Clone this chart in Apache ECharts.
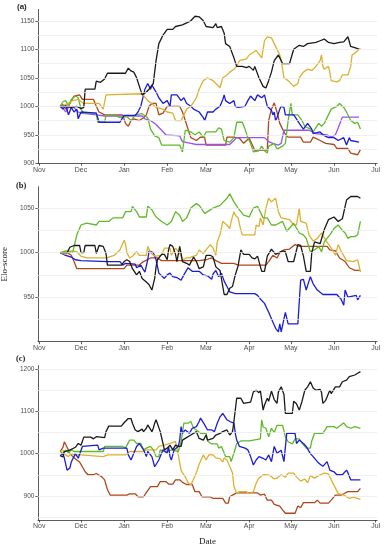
<!DOCTYPE html>
<html><head><meta charset="utf-8">
<script src="https://cdn.jsdelivr.net/npm/echarts@6/dist/echarts.min.js"></script>
<style>html,body{margin:0;padding:0;background:#fff}#c{width:388px;height:550px}</style>
</head><body><div id="c"></div>
<script>
// ---------- data (dates as MM-DD, season Nov 2016 - Jun 2017) ----------
const monthTicks = ['11-01','12-01','01-01','02-01','03-01','04-01','05-01','06-01','07-01'];
const monthNames = ['Jan','Feb','Mar','Apr','May','Jun','Jul','Aug','Sep','Oct','Nov','Dec'];
const yTicksA = [900,950,1000,1050,1100,1150];
const yTicksB = [950,1000,1050];
const yTicksC = [900,1000,1100,1200];
const gridA = [925,950,975,1000,1025,1050,1075,1100,1125,1150];
const gridB = [925,950,975,1000,1025,1050];
const gridC = [850,900,950,1000,1050,1100,1150,1200];

// panel (a)
const a_black = [['11-16',1000],['11-20',1000],['11-24',998],['11-28',1000],['12-01',996],['12-03',998],['12-04',1030],['12-11',1030],['12-12',1044],['12-15',1042],['12-18',1048],['12-20',1058],['01-02',1058],['01-04',1067],['01-06',1062],['01-08',1060],['01-10',1050],['01-12',1035],['01-14',1020],['01-17',1025],['01-19',1030],['01-22',1040],['01-24',1080],['01-26',1110],['01-29',1125],['02-01',1135],['02-05',1135],['02-07',1140],['02-12',1143],['02-18',1150],['02-21',1158],['02-24',1157],['02-27',1150],['03-01',1140],['03-06',1138],['03-08',1145],['03-09',1138],['03-12',1140],['03-14',1128],['03-15',1110],['03-18',1105],['03-21',1085],['03-23',1070],['03-27',1070],['03-30',1068],['04-01',1070],['04-04',1063],['04-05',1070],['04-08',1050],['04-11',1035],['04-13',1032],['04-15',1045],['04-17',1060],['04-19',1080],['04-22',1090],['04-23',1085],['04-25',1075],['04-30',1075],['05-03',1100],['05-07',1107],['05-10',1105],['05-13',1110],['05-19',1112],['05-22',1115],['05-25',1118],['05-28',1112],['06-01',1110],['06-05',1112],['06-08',1113],['06-11',1122],['06-13',1105],['06-17',1102],['06-19',1100]];
const a_gold = [['11-16',1000],['11-20',1003],['11-25',1010],['11-29',1012],['12-03',1005],['12-14',1005],['12-17',995],['12-19',1020],['12-20',1022],['01-14',1022],['01-18',1010],['01-21',1005],['01-24',998],['01-29',995],['02-01',990],['02-05',988],['02-07',975],['02-11',975],['02-13',985],['02-15',995],['02-18',1000],['02-22',1015],['02-24',1030],['02-27',1045],['03-02',1050],['03-06',1045],['03-08',1040],['03-11',1033],['03-13',1050],['03-16',1055],['03-18',1060],['03-21',1065],['03-23',1070],['03-25',1080],['03-30',1083],['04-01',1090],['04-06',1098],['04-10',1085],['04-11',1100],['04-12',1115],['04-14',1122],['04-17',1120],['04-19',1110],['04-22',1095],['04-23',1090],['04-24',1080],['04-26',1050],['04-29',1045],['05-03',1035],['05-06',1040],['05-07',1050],['05-10',1060],['05-13',1065],['05-16',1063],['05-18',1067],['05-22',1080],['05-23',1090],['05-24',1070],['05-25',1065],['05-28',1070],['05-29',1060],['05-30',1045],['06-03',1043],['06-05',1045],['06-07',1055],['06-11',1055],['06-13',1070],['06-14',1090],['06-17',1095],['06-19',1100],['06-20',1102]];
const a_blue = [['11-16',1000],['11-18',995],['11-20',1002],['11-22',985],['11-24',998],['11-26',990],['11-28',995],['11-29',978],['12-01',990],['12-12',988],['12-14',972],['12-29',972],['01-01',984],['01-09',984],['01-11',990],['01-13',1000],['01-14',1010],['01-16',1030],['01-18',1040],['01-19',1035],['01-20',1030],['01-21',1037],['01-24',1025],['01-26',1015],['01-29',1005],['02-01',1010],['02-03',1000],['02-04',1020],['02-08',1020],['02-11',1010],['02-13',1015],['02-15',1005],['02-18',1000],['02-20',995],['02-24',990],['02-27',980],['02-28',975],['03-02',990],['03-06',990],['03-08',995],['03-11',1000],['03-13',1012],['03-14',1020],['03-15',1010],['03-18',1005],['03-21',1010],['03-22',1000],['03-24',998],['03-29',1000],['03-31',1010],['04-02',1018],['04-05',1010],['04-07',1020],['04-10',1015],['04-12',1020],['04-13',1010],['04-14',1000],['04-17',993],['04-18',985],['04-19',990],['04-20',975],['04-21',980],['04-23',995],['04-24',1000],['04-26',998],['04-27',985],['05-03',985],['05-05',978],['05-07',970],['05-10',960],['05-13',970],['05-16',960],['05-17',952],['05-22',955],['05-24',950],['05-28',945],['06-01',945],['06-04',940],['06-08',945],['06-10',932],['06-12',945],['06-13',940],['06-19',937]];
const a_green = [['11-16',1000],['11-18',1008],['11-20',1010],['11-22',1000],['11-24',1012],['11-27',1018],['11-29',1015],['12-01',995],['12-03',988],['12-12',988],['12-13',972],['12-18',972],['12-19',985],['12-25',985],['12-29',980],['01-03',982],['01-06',975],['01-09',985],['01-14',987],['01-18',980],['01-20',960],['01-23',948],['01-26',945],['01-28',932],['02-10',932],['02-12',920],['02-14',958],['02-18',955],['02-21',950],['02-24',955],['02-27',945],['03-01',955],['03-08',955],['03-10',962],['03-12',960],['03-14',940],['03-18',937],['03-21',945],['03-23',972],['03-27',972],['03-29',960],['03-31',945],['04-02',935],['04-04',920],['04-08',922],['04-10',930],['04-12',922],['04-14',918],['04-15',930],['04-19',935],['04-21',925],['04-25',930],['04-27',935],['04-29',975],['05-01',1005],['05-02',985],['05-06',985],['05-09',975],['05-11',965],['05-15',960],['05-17',955],['05-21',970],['05-23',965],['05-25',970],['05-28',985],['05-30',995],['06-03',1000],['06-05',1005],['06-08',998],['06-10',990],['06-13',975],['06-16',970],['06-18',972],['06-20',960]];
const a_purple = [['11-16',1000],['11-18',997],['11-20',990],['11-22',998],['11-25',1000],['11-27',995],['11-29',990],['12-01',988],['12-12',985],['12-18',983],['01-14',983],['01-16',978],['01-20',975],['01-24',968],['01-28',958],['01-31',950],['02-10',948],['02-12',938],['02-18',935],['02-22',933],['03-18',933],['03-21',940],['03-23',945],['04-12',945],['04-15',938],['04-18',935],['04-22',932],['04-24',935],['04-26',958],['05-14',958],['05-19',952],['05-27',950],['05-30',946],['06-02',950],['06-04',962],['06-07',981],['06-19',981]];
const a_brown = [['11-16',1000],['11-18',1003],['11-20',995],['11-22',1000],['11-24',1010],['11-26',1018],['11-30',1020],['12-02',1012],['12-10',1012],['12-12',1000],['12-14',990],['12-18',985],['12-31',985],['01-02',970],['01-04',965],['01-06',975],['01-08',978],['01-12',975],['01-15',980],['01-17',985],['01-19',1000],['01-21',1005],['01-24',1005],['01-26',985],['01-29',988],['02-01',1000],['02-10',1000],['02-12',990],['02-14',975],['02-16',960],['02-18',945],['02-22',940],['02-25',946],['02-28',945],['03-01',932],['03-15',932],['03-16',946],['03-20',946],['03-25',944],['03-28',935],['04-01',944],['04-05',923],['04-14',923],['04-15',975],['04-17',995],['04-19',1006],['04-21',990],['04-23',970],['04-25',960],['04-27',951],['04-29',946],['05-08',946],['05-10',937],['05-15',937],['05-17',946],['05-22',940],['05-26',935],['06-01',933],['06-03',926],['06-11',926],['06-13',918],['06-18',915],['06-20',924]];

// panel (b)
const b_green = [['11-16',1000],['11-20',1002],['11-25',1000],['11-28',1020],['12-01',1031],['12-05',1033],['12-12',1031],['12-14',1035],['12-21',1035],['12-24',1039],['12-31',1039],['01-02',1046],['01-06',1046],['01-07',1052],['01-10',1046],['01-12',1040],['01-17',1040],['01-18',1052],['01-21',1048],['01-24',1040],['01-28',1035],['02-01',1031],['02-04',1035],['02-07',1046],['02-10',1042],['02-12',1035],['02-15',1039],['02-18',1050],['02-22',1055],['02-24',1053],['02-28',1044],['03-02',1046],['03-06',1050],['03-11',1053],['03-16',1061],['03-18',1066],['03-21',1057],['03-24',1050],['03-28',1042],['04-01',1040],['04-04',1050],['04-07',1052],['04-11',1039],['04-14',1039],['04-17',1031],['04-20',1031],['04-25',1035],['04-28',1024],['05-03',1033],['05-07',1022],['05-10',1020],['05-12',1016],['05-15',1001],['05-18',1003],['05-21',1007],['05-23',1001],['05-25',1012],['05-29',1020],['06-01',1027],['06-04',1031],['06-07',1025],['06-09',1022],['06-11',1016],['06-13',1018],['06-16',1018],['06-18',1020],['06-20',1035]];
const b_black = [['11-16',1000],['11-21',1000],['11-23',1006],['11-26',1008],['11-30',1008],['12-01',1000],['12-03',1000],['12-04',1008],['12-11',1008],['12-12',999],['12-14',1008],['12-17',1007],['12-19',999],['12-20',986],['12-30',986],['01-01',990],['01-03',992],['01-05',990],['01-07',982],['01-10',975],['01-12',979],['01-14',971],['01-17',967],['01-19',964],['01-21',958],['01-23',971],['01-24',984],['01-25',992],['01-28',998],['01-30',998],['02-01',992],['02-02',1003],['02-03',1009],['02-05',1007],['02-07',998],['02-08',990],['02-10',1007],['02-11',999],['02-12',990],['02-15',988],['02-17',986],['02-20',995],['02-22',990],['02-24',982],['02-27',984],['03-01',997],['03-02',995],['03-04',997],['03-06',995],['03-08',984],['03-11',980],['03-14',953],['03-16',953],['03-18',960],['03-20',962],['03-22',975],['03-24',985],['03-26',1003],['03-28',998],['04-01',998],['04-03',994],['04-05',993],['04-07',996],['04-10',979],['04-12',979],['04-14',996],['04-17',1004],['04-20',998],['04-25',1002],['04-27',1001],['04-29',990],['05-03',990],['05-06',1009],['05-08',1008],['05-10',996],['05-12',979],['05-15',979],['05-16',1000],['05-18',1012],['05-22',1010],['05-25',1026],['05-28',1037],['06-01',1040],['06-04',1035],['06-07',1038],['06-10',1059],['06-13',1063],['06-18',1063],['06-20',1061]];
const b_gold = [['11-16',1000],['11-20',998],['11-23',1002],['11-28',1001],['12-01',996],['12-05',994],['12-19',994],['12-25',997],['12-29',1003],['01-01',1014],['01-02',1010],['01-03',1000],['01-05',994],['01-07',996],['01-10',1001],['01-12',997],['01-17',997],['01-18',1007],['01-20',1000],['01-22',997],['01-24',996],['01-28',997],['01-30',1005],['02-03',1005],['02-04',997],['02-05',999],['02-07',1005],['02-10',999],['02-12',992],['02-15',994],['02-17',994],['02-20',996],['02-22',997],['02-24',1003],['02-27',999],['03-01',1003],['03-04',1009],['03-06',1005],['03-07',1001],['03-08',997],['03-09',1012],['03-11',1020],['03-13',1035],['03-16',1031],['03-18',1027],['03-19',1035],['03-21',1046],['03-22',1042],['03-24',1039],['03-26',1025],['03-27',1020],['04-05',1020],['04-06',1031],['04-08',1029],['04-09',1039],['04-11',1031],['04-13',1050],['04-15',1061],['04-17',1057],['04-20',1061],['04-22',1046],['04-24',1039],['04-30',1037],['05-03',1031],['05-05',1031],['05-07',1050],['05-08',1035],['05-12',1033],['05-14',1020],['05-17',1013],['05-20',1016],['05-23',1022],['05-26',1014],['05-30',1005],['06-02',997],['06-04',1009],['06-06',1002],['06-10',991],['06-15',990],['06-18',992],['06-20',978]];
const b_blue = [['11-16',1000],['11-20',997],['11-24',995],['11-27',992],['12-01',991],['12-20',990],['12-29',990],['12-31',986],['01-02',988],['01-09',987],['01-10',983],['01-11',981],['01-13',986],['01-14',984],['01-16',978],['01-18',992],['01-19',1002],['01-22',1000],['01-24',992],['01-26',977],['01-30',971],['02-01',975],['02-03',977],['02-05',973],['02-08',972],['02-11',969],['02-13',975],['02-16',983],['02-19',979],['02-24',979],['02-27',975],['03-02',974],['03-05',970],['03-06',976],['03-08',980],['03-10',973],['03-12',977],['03-14',968],['03-16',962],['03-18',956],['03-22',954],['04-05',954],['04-07',952],['04-09',948],['04-12',943],['04-15',933],['04-18',922],['04-20',915],['04-22',911],['04-23',920],['04-24',911],['04-27',933],['04-29',920],['05-06',920],['05-08',969],['05-10',970],['05-12',958],['05-15',973],['05-17',965],['05-20',958],['05-24',953],['06-03',953],['06-06',948],['06-08',941],['06-09',958],['06-11',950],['06-17',952],['06-18',947],['06-20',952]];
const b_brown = [['11-16',1000],['11-21',1000],['11-24',997],['11-26',990],['11-28',982],['01-01',982],['01-03',986],['01-12',986],['01-14',989],['01-20',994],['01-25',994],['01-28',991],['02-24',991],['03-01',992],['03-05',994],['03-08',991],['03-12',988],['03-21',988],['03-24',986],['04-13',986],['04-15',990],['04-18',997],['04-21',994],['04-23',1000],['04-26',1003],['04-30',1004],['05-04',1009],['05-07',1007],['05-27',1007],['05-29',1003],['06-02',1002],['06-05',994],['06-09',990],['06-12',983],['06-16',980],['06-20',980]];

// panel (c)
const c_black = [['11-16',995],['11-17',995],['11-18',992],['11-19',1005],['11-22',1007],['11-24',1010],['11-27',1015],['11-29',1024],['12-01',1020],['12-03',1039],['12-08',1039],['12-10',1035],['12-12',1040],['12-18',1038],['12-19',1052],['12-21',1065],['12-30',1065],['01-01',1073],['01-04',1083],['01-06',1083],['01-07',1072],['01-09',1056],['01-11',1052],['01-14',1058],['01-15',1052],['01-17',1060],['01-18',1068],['01-21',1052],['01-22',1060],['01-23',1072],['01-24',1080],['01-27',1052],['01-29',1024],['01-30',1009],['02-01',1013],['02-02',1009],['02-03',1020],['02-04',1017],['02-05',1009],['02-07',1020],['02-09',1017],['02-11',1017],['02-12',1032],['02-14',1036],['02-18',1044],['02-22',1052],['02-24',1036],['02-27',1032],['03-01',1044],['03-02',1032],['03-06',1036],['03-08',1044],['03-11',1048],['03-13',1052],['03-16',1056],['03-18',1044],['03-20',1052],['03-21',1076],['03-23',1131],['03-26',1131],['03-28',1119],['04-02',1122],['04-04',1146],['04-06',1150],['04-08',1144],['04-09',1150],['04-11',1103],['04-12',1115],['04-14',1131],['04-15',1124],['04-17',1148],['04-19',1128],['04-21',1119],['04-22',1146],['04-24',1158],['04-25',1156],['04-26',1140],['04-27',1095],['05-02',1095],['05-03',1124],['05-05',1118],['05-07',1103],['05-09',1124],['05-11',1150],['05-13',1158],['05-15',1170],['05-17',1155],['05-19',1150],['05-22',1152],['05-23',1145],['05-24',1119],['05-26',1126],['05-29',1150],['05-30',1142],['06-02',1158],['06-05',1158],['06-07',1170],['06-10',1174],['06-12',1182],['06-16',1186],['06-18',1190],['06-20',1194]];
const c_blue = [['11-16',995],['11-18',1000],['11-19',990],['11-20',975],['11-21',961],['11-23',966],['11-24',980],['11-27',1000],['11-29',989],['12-02',1017],['12-03',1020],['12-13',1020],['12-14',1009],['12-17',1013],['12-19',1013],['01-03',1013],['01-04',997],['01-06',985],['01-07',989],['01-10',1017],['01-12',1024],['01-15',1009],['01-16',1013],['01-17',993],['01-18',1005],['01-21',993],['01-23',969],['01-26',985],['01-27',993],['01-29',1009],['02-01',1001],['02-02',1017],['02-03',993],['02-04',985],['02-05',981],['02-06',1009],['02-09',1017],['02-10',1032],['02-11',1064],['02-12',1048],['02-14',1056],['02-17',1048],['02-19',1060],['02-22',1064],['02-24',1076],['02-25',1084],['02-28',1068],['03-02',1056],['03-05',1056],['03-07',1052],['03-08',1056],['03-09',1072],['03-11',1087],['03-13',1095],['03-16',1080],['03-18',1076],['03-21',1072],['03-22',1048],['03-23',1032],['03-25',1017],['03-29',1013],['03-31',1009],['04-02',993],['04-04',973],['04-06',985],['04-08',993],['04-11',989],['04-13',985],['04-15',997],['04-17',981],['04-19',1017],['04-21',1001],['04-24',1008],['04-26',981],['04-28',1048],['05-04',1048],['05-05',1024],['05-07',1032],['05-10',1024],['05-12',1017],['05-15',1000],['05-17',993],['05-20',981],['05-22',975],['05-24',970],['05-27',981],['05-29',961],['06-01',957],['06-03',950],['06-07',950],['06-10',961],['06-11',955],['06-13',938],['06-20',938]];
const c_green = [['11-16',1005],['11-18',1000],['11-20',1009],['11-22',1002],['11-24',1009],['11-26',1005],['12-17',1005],['12-18',1017],['12-31',1017],['01-02',1013],['01-05',1032],['01-08',1032],['01-10',1024],['01-13',1024],['01-15',1009],['01-17',1013],['01-20',1017],['01-22',1009],['01-24',993],['01-26',993],['01-27',1009],['01-30',1005],['02-05',1009],['02-09',1005],['02-11',1028],['02-13',1072],['02-16',1072],['02-18',1076],['02-20',1060],['02-22',1056],['02-25',1048],['03-01',1048],['03-02',1030],['03-05',1023],['03-09',1023],['03-10',1013],['03-12',1017],['03-15',993],['03-18',993],['03-19',981],['03-21',1001],['03-23',1024],['03-26',1030],['04-01',1030],['04-09',1035],['04-10',1080],['04-11',1063],['04-13',1060],['04-15',1040],['04-17',1060],['04-19',1050],['04-21',1067],['04-25',1067],['04-27',1040],['04-29',1028],['05-02',1023],['05-04',1035],['05-07',1035],['05-09',1025],['05-12',1013],['05-15',1013],['05-16',1030],['05-18',1048],['05-24',1048],['05-27',1064],['06-01',1064],['06-03',1060],['06-08',1073],['06-10',1064],['06-13',1060],['06-16',1064],['06-20',1060]];
const c_gold = [['11-16',1005],['11-18',1008],['11-20',997],['11-22',993],['11-24',1000],['11-27',997],['12-01',997],['12-17',993],['12-20',997],['01-02',997],['01-05',1005],['01-15',1005],['01-17',1009],['01-24',1009],['01-26',1017],['01-30',1020],['02-03',1024],['02-07',1029],['02-09',997],['02-11',960],['02-14',945],['02-16',931],['02-18',926],['02-20',940],['02-22',955],['02-24',975],['02-27',997],['03-01',985],['03-03',997],['03-06',997],['03-08',990],['03-11',988],['03-13',980],['03-14',990],['03-16',985],['03-18',970],['03-20',954],['03-21',922],['03-23',906],['03-25',910],['03-30',910],['04-01',905],['04-04',910],['04-06',930],['04-08',942],['04-11',950],['04-14',950],['04-16',948],['04-19',940],['04-21',942],['04-24',950],['04-27',944],['04-29',954],['05-03',954],['05-05',945],['05-08',935],['05-11',940],['05-13',931],['05-15',948],['05-18',942],['05-22',950],['05-25',954],['05-28',952],['05-30',938],['06-01',925],['06-04',906],['06-08',902],['06-12',894],['06-15',897],['06-20',892]];
const c_brown = [['11-16',1005],['11-18',1015],['11-19',1028],['11-21',1015],['11-23',1000],['11-26',990],['11-28',985],['11-30',980],['12-02',969],['12-04',957],['12-06',950],['12-10',950],['12-12',953],['12-16',945],['12-18',938],['12-20',915],['12-22',902],['01-03',902],['01-05',905],['01-09',905],['01-11',898],['01-15',898],['01-17',908],['01-20',922],['01-25',922],['01-27',934],['01-31',934],['02-02',928],['02-05',928],['02-07',938],['02-10',938],['02-12',932],['02-15',927],['02-19',927],['02-21',910],['02-24',910],['02-26',898],['03-04',898],['03-06',894],['03-13',894],['03-15',883],['03-17',883],['03-18',898],['03-20',902],['03-21',898],['03-23',907],['04-07',907],['04-09',902],['04-12',904],['04-14',890],['04-17',890],['04-19',880],['04-23',876],['04-25',867],['04-27',859],['05-04',859],['05-06',876],['05-08',872],['05-10',884],['05-18',884],['05-20',890],['05-22',883],['05-28',883],['05-30',890],['06-02',902],['06-06',902],['06-08',905],['06-11',910],['06-18',910],['06-20',918]];

// ---------- chart ----------
const C = {black:'#1a1a1a', gold:'#dcb030', blue:'#1c1cd8', green:'#5fba2a', purple:'#9a52ee', brown:'#b0461c'};
function ts(s){ const p = s.split('-').map(Number); return Date.UTC(p[0] >= 10 ? 2016 : 2017, p[0]-1, p[1]); }
const conv = arr => arr.map(d => [ts(d[0]), d[1]]);
const monthTs = monthTicks.map(ts);

const panels = [
  {top:9.4, height:153.9, min:900, max:1170, ticks:yTicksA, grid:gridA,
   series:[['brown',a_brown],['purple',a_purple],['green',a_green],['blue',a_blue],['gold',a_gold],['black',a_black]]},
  {top:186.7, height:155, min:900, max:1074, ticks:yTicksB, grid:gridB,
   series:[['brown',b_brown],['blue',b_blue],['gold',b_gold],['green',b_green],['black',b_black]]},
  {top:365.7, height:154.3, min:843, max:1208, ticks:yTicksC, grid:gridC,
   series:[['brown',c_brown],['gold',c_gold],['green',c_green],['blue',c_blue],['black',c_black]]}
];

const axisCol = '#333';
const lblCol = '#4d4d4d';
const option = {animation:false, backgroundColor:'#fff', grid:[], xAxis:[], yAxis:[], series:[],
  graphic:[
    {type:'text', left:17, top:3, style:{text:'(a)', font:'bold 8px "Liberation Sans"', fill:'#222'}},
    {type:'text', left:16, top:181, style:{text:'(b)', font:'bold 8.5px "Liberation Serif"', fill:'#222'}},
    {type:'text', left:16, top:354, style:{text:'(c)', font:'bold 8.5px "Liberation Serif"', fill:'#222'}}
  ]};

panels.forEach((p, i) => {
  option.grid.push({left:37.9, width:339.2, top:p.top, height:p.height, containLabel:false, outerBoundsMode:'none'});
  option.xAxis.push({type:'value', gridIndex:i, min:ts('10-31'), max:ts('07-02'),
    axisLine:{lineStyle:{color:axisCol, width:0.8}},
    axisTick:{show:true, length:2.5, customValues:monthTs, lineStyle:{color:axisCol, width:0.8}},
    axisLabel:{customValues:monthTs, formatter:v => monthNames[new Date(v).getUTCMonth()], fontSize:7, color:lblCol, margin:3, fontFamily:'Liberation Sans'},
    splitLine:{show:false},
    name: i === 2 ? 'Date' : '', nameLocation:'middle', nameGap:17,
    nameTextStyle:{fontFamily:'Liberation Serif', fontSize:9, color:'#222'}
  });
  option.yAxis.push({type:'value', gridIndex:i, min:p.min, max:p.max,
    axisLine:{show:true, lineStyle:{color:axisCol, width:0.8}},
    axisTick:{show:true, length:2.5, customValues:p.ticks, lineStyle:{color:axisCol, width:0.8}},
    axisLabel:{customValues:p.ticks, formatter:v => String(v), fontSize:6.5, color:lblCol, margin:3.5, fontFamily:'Liberation Sans'},
    splitLine:{show:false},
    name: i === 1 ? 'Elo-score' : '', nameLocation:'middle', nameGap:25, nameRotate:90,
    nameTextStyle:{fontFamily:'Liberation Serif', fontSize:9, color:'#222'}
  });
  option.series.push({type:'line', xAxisIndex:i, yAxisIndex:i, data:[], silent:true, z:1,
    markLine:{silent:true, symbol:['none','none'], label:{show:false}, animation:false,
      lineStyle:{color:'#e8e8e8', width:0.7, type:'solid'},
      data:p.grid.map(v => ({yAxis:v}))}});
  p.series.forEach(([col, arr]) => {
    option.series.push({type:'line', xAxisIndex:i, yAxisIndex:i, data:conv(arr), showSymbol:false, symbol:'none',
      lineStyle:{color:C[col], width:1.3}, itemStyle:{color:C[col]}, z:2});
  });
});

const chart = echarts.init(document.getElementById('c'), null, {renderer:'canvas'});
chart.setOption(option);
</script></body></html>
